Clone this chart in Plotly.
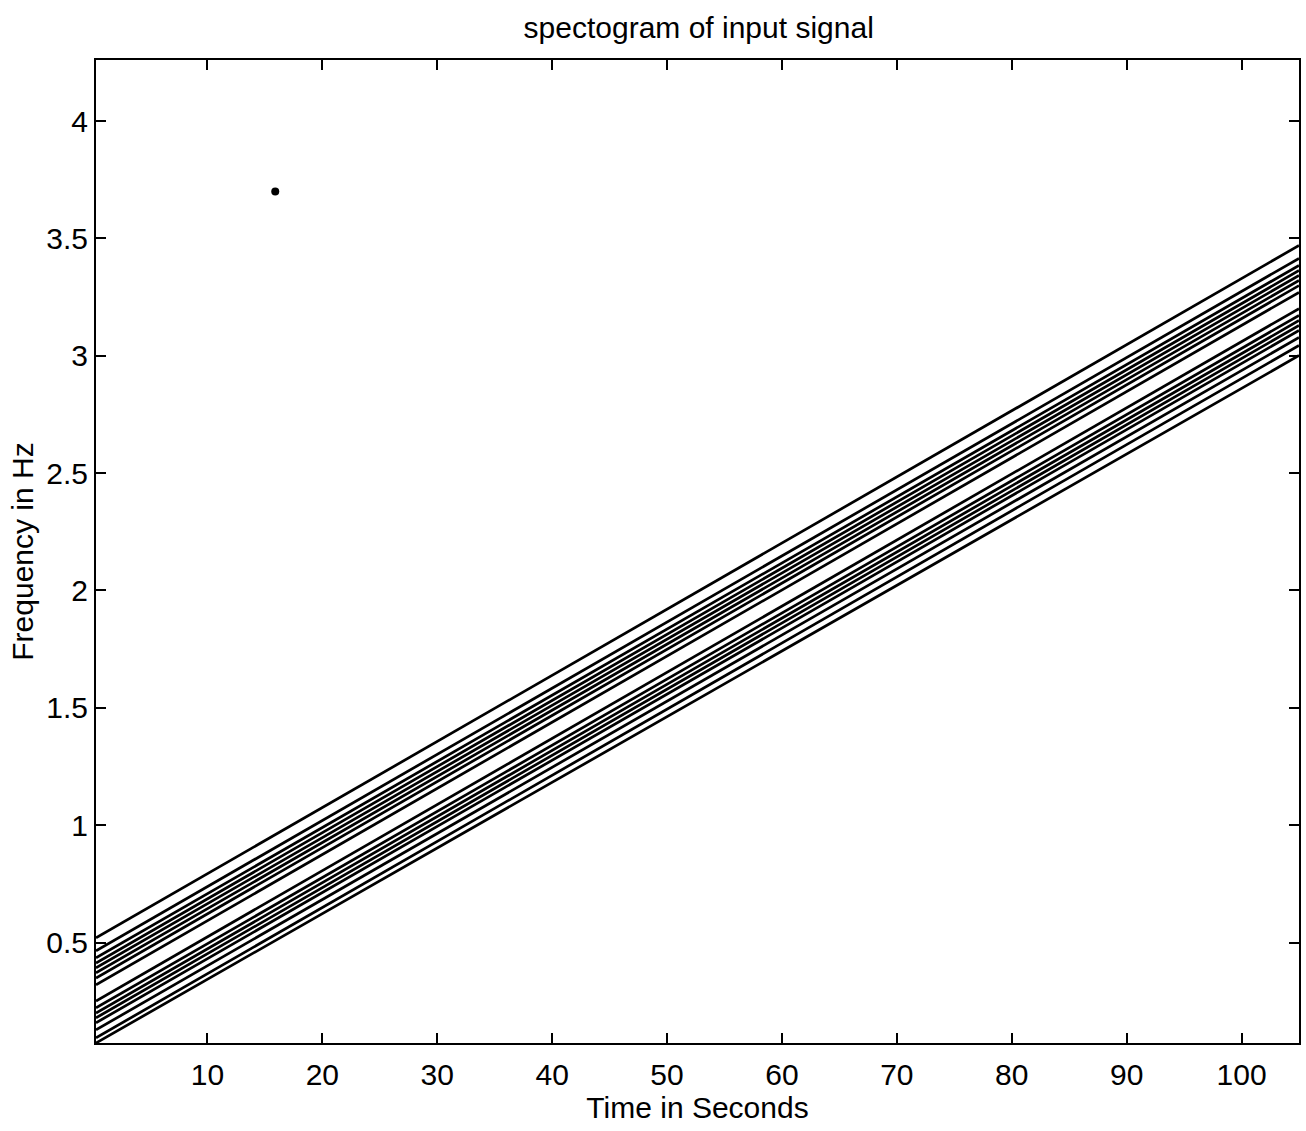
import plotly.graph_objects as go

# Contour lines of the chirp spectrogram: frequency (Hz) at the left and right edges
t_left = 0.3
t_right = 105.0
f_at_left = [0.52, 0.465, 0.435, 0.413, 0.392, 0.371, 0.349, 0.32,
             0.251, 0.222, 0.20, 0.179, 0.158, 0.128, 0.094, 0.072]
f_at_right = [3.47, 3.415, 3.385, 3.363, 3.342, 3.321, 3.299, 3.27,
              3.201, 3.172, 3.15, 3.129, 3.108, 3.078, 3.044, 3.001]

# small blotch in the scan
blot_t = [15.9]
blot_f = [3.70]

x_ticks = [10, 20, 30, 40, 50, 60, 70, 80, 90, 100]
y_ticks = [0.5, 1, 1.5, 2, 2.5, 3, 3.5, 4]
y_tick_labels = ["0.5", "1", "1.5", "2", "2.5", "3", "3.5", "4"]

fig = go.Figure()
for fl, fr in zip(f_at_left, f_at_right):
    fig.add_trace(go.Scatter(x=[t_left, t_right], y=[fl, fr], mode="lines",
                             line=dict(color="black", width=2.7),
                             showlegend=False, hoverinfo="skip"))

fig.add_trace(go.Scatter(x=blot_t, y=blot_f, mode="markers",
                         marker=dict(color="black", size=8, symbol="circle"),
                         showlegend=False, hoverinfo="skip"))

font = dict(family="Liberation Sans, Arial, sans-serif", size=30, color="black")

fig.update_layout(
    width=1306, height=1131,
    margin=dict(l=96, r=5, t=60, b=88),
    paper_bgcolor="white", plot_bgcolor="white",
    font=font,
    title=dict(text="spectogram of input signal", x=0.535, xanchor="center",
               y=0.976, yanchor="middle", font=font),
)
fig.update_xaxes(range=[0.3, 105], tickvals=x_ticks, ticks="inside", ticklen=10,
                 tickwidth=1.5, tickcolor="black", showline=True, linecolor="black",
                 linewidth=2, mirror="ticks", showgrid=False, zeroline=False,
                 title=dict(text="Time in Seconds", font=font, standoff=2),
                 ticklabelstandoff=4, tickfont=font)
fig.update_yaxes(range=[0.072, 4.26], tickvals=y_ticks, ticktext=y_tick_labels,
                 ticks="inside", ticklen=10, tickwidth=1.5, tickcolor="black",
                 showline=True, linecolor="black", linewidth=2, mirror="ticks",
                 showgrid=False, zeroline=False,
                 title=dict(text="Frequency in Hz", font=font, standoff=4),
                 tickfont=font)

fig.write_html("out.html")
